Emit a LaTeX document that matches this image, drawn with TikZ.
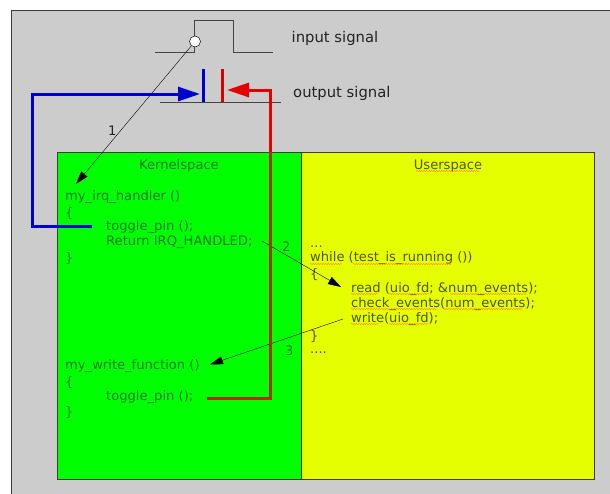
\documentclass[tikz,border=0pt]{standalone}
\usepackage{fontspec}
\setmainfont{DejaVu Sans}
\usetikzlibrary{arrows.meta,decorations.pathmorphing}
\definecolor{gbg}{HTML}{CCCCCC}
\definecolor{kgreen}{HTML}{00FF00}
\definecolor{uyellow}{HTML}{E6FF00}
\definecolor{ktext}{HTML}{007A14}
\definecolor{utext}{HTML}{50540E}
\definecolor{gtext}{HTML}{222222}
\definecolor{wave}{HTML}{444444}
\definecolor{kred}{HTML}{AA3010}
\definecolor{kblue}{HTML}{0000CC}
\begin{document}
\begin{tikzpicture}[x=1pt,y=-1pt,
  ktxt/.style={anchor=west,inner sep=0pt,yshift=-1.3pt,font=\fontsize{13.1}{15}\selectfont,text=ktext},
  utxt/.style={anchor=west,inner sep=0pt,yshift=-1.3pt,font=\fontsize{13.1}{15}\selectfont,text=utext},
  ltxt/.style={anchor=west,inner sep=0pt,yshift=-1.3pt,font=\fontsize{14.8}{17}\selectfont,text=gtext},
  thinarrow/.style={draw=black,line width=0.4pt,-{Triangle[length=13pt,width=8pt]}},
  sigline/.style={draw=wave,line width=0.8pt},
  boxline/.style={draw=black!70!gbg,line width=0.7pt},
  bigtip/.style={-{Triangle[length=22pt,width=14pt]}}]
\useasboundingbox (0,0) rectangle (610,493);
\fill[white] (0,0) rectangle (610,493);
\fill[gbg,boxline] (11,10) rectangle (620,503);
\node[fill=kgreen,boxline,minimum width=244pt,minimum height=327pt,anchor=north west,inner sep=0pt] (kbox) at (57,152) {};
\node[fill=uyellow,boxline,minimum width=293pt,minimum height=327pt,anchor=north west,inner sep=0pt] (ubox) at (301,152) {};
% signals
\draw[sigline] (155,52) -- (194.5,52) -- (194.5,20) -- (233,20) -- (233,52) -- (273,52);
\draw[sigline] (160,102) -- (281,102);
\node[circle,draw=black,fill=white,line width=0.5pt,minimum size=11pt,inner sep=0pt] (pt) at (195,41.5) {};
\coordinate (a1) at (76,184);
\draw[thinarrow] (pt) -- (a1);
\node[ltxt] (in) at (291.5,37) {input signal};
\node[ltxt] (out) at (293,92) {output signal};
\node[ktxt,text=gtext] (n1) at (108,129) {1};
% text
\node[ktxt,anchor=center] (kt) at (179,164.5) {Kernelspace};
\node[ktxt] (k1) at (65,196) {my\_irq\_handler ()};
\node[ktxt] (k2) at (65,212.5) {\{};
\node[ktxt] (k3) at (106,226) {toggle\_pin ();};
\node[ktxt] (k4) at (106,241) {Return IRQ\_HANDLED;};
\node[ktxt] (k5) at (65,257) {\}};
\node[ktxt] (n2) at (282,245.5) {2};
\node[ktxt] (n3) at (285,349) {3};
\node[ktxt] (w1) at (65,364.5) {my\_write\_function ()};
\node[ktxt] (w2) at (65,381) {\{};
\node[ktxt] (w3) at (106,396) {toggle\_pin ();};
\node[ktxt] (w4) at (65,411) {\}};
% user
\tikzset{squig/.style={decorate,decoration={snake,amplitude=0.5pt,segment length=2.5pt},draw=orange!90!red,line width=0.4pt}}
\node[utxt,anchor=center] (ut) at (448,164.5) {Userspace};
\node[utxt] (u0) at (310,245) {...};
\node[utxt] (u1) at (310,257) {while (test\_is\_running ())};
\node[utxt] (u2) at (310,273) {\{};
\node[utxt] (u3) at (351,288) {read (uio\_fd; \&num\_events);};
\node[utxt] (u4) at (351,303) {check\_events(num\_events);};
\node[utxt] (u5) at (351,318) {write(uio\_fd);};
\node[utxt] (u6) at (310,335) {\}};
\node[utxt] (u7) at (310,351) {....};
\draw[squig] (416,171) -- (480,171);
\draw[squig] (310,264) -- (342,264);
\draw[squig] (353,264) -- (452,264);
\draw[squig] (351,294) -- (378,294);
\draw[squig] (389,294) -- (429,294);
\draw[squig] (450,294) -- (527,294);
\draw[squig] (351,309) -- (437,309);
\draw[squig] (443,309) -- (523,309);
\draw[squig] (351,324) -- (378,324);
\draw[squig] (389,324) -- (429,324);
% diagonal arrows
\coordinate (d2s) at (262,241);
\coordinate (d2e) at (341,287);
\draw[thinarrow] (d2s) -- (d2e);
\coordinate (d3s) at (343,319);
\coordinate (d3e) at (210,364.5);
\draw[thinarrow] (d3s) -- (d3e);
% blue connector
\coordinate (b0) at (92,226);
\coordinate (b1) at (32,226);
\coordinate (b2) at (32,94);
\coordinate (b3) at (200,94);
\draw[draw=kblue,line width=3pt,bigtip] (b0) -- (b1) -- (b2) -- (b3);
\draw[kblue,line width=3pt] (203.5,69) -- (203.5,102);
% red connector
\coordinate (r0) at (207,398.5);
\coordinate (r1) at (270,398.5);
\coordinate (r2) at (270,152);
\coordinate (r3) at (270,90);
\coordinate (r4) at (227,90);
\draw[kred,line width=3pt] (r0) -- (r1) -- (r2);
\draw[draw=red!90!black,line width=3pt,bigtip] (r2) -- (r3) -- (r4);
\draw[draw=red!85!black,line width=3pt] (222.5,69) -- (222.5,102);
\end{tikzpicture}
\end{document}
